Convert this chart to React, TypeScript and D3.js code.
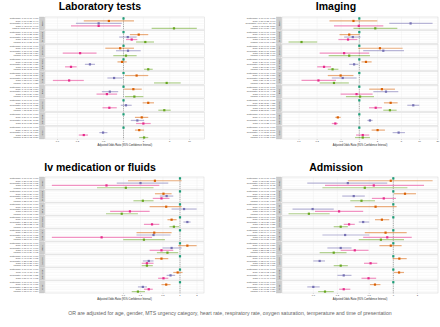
import React from "react";
import * as d3 from "d3";

// Dark2 palette: reference site first
const COLORS = ["#1B9E77", "#D95F02", "#7570B3", "#E7298A", "#66A61E"];
const SITES = ["Rotterdam", "Graz", "Newcastle", "Riga", "Madrid"];
const FACETS = ["Fever", "Dyspnoea", "Vomiting", "Diarrhoea", "Abd. pain", "Rash", "Seizure", "Ear/throat", "Other"];

const AXIS_TITLE = "Adjusted Odds Ratio (95% Confidence Interval)";
const FOOTNOTE =
  "OR are adjusted for age, gender, MTS urgency category, heart rate, respiratory rate, oxygen saturation, temperature and time of presentation";

// Columns: Graz, Newcastle, Riga, Madrid (reference = 1.00)
const LAB_OR = [
  [0.6, 0.42, 0.42, 5.82],
  [1.7, 1.16, 1.33, 2.14],
  [0.89, 1.17, 0.22, 1.09],
  [0.95, 0.31, 0.16, 2.37],
  [1.58, 0.72, 0.15, 4.51],
  [1.41, 0.62, 0.56, 1.46],
  [2.37, 1.09, 0.61, 4.15],
  [1.89, 1.62, 2.0, null],
  [1.73, 0.49, 0.25, 2.05],
];
const LAB_LO = [
  [0.25, 0.19, 0.16, 2.67],
  [1.25, 0.86, 1.09, 1.55],
  [0.53, 0.77, 0.12, 0.7],
  [0.81, 0.26, 0.13, 2.05],
  [1.05, 0.57, 0.085, 2.9],
  [1.02, 0.47, 0.39, 1.05],
  [1.95, 0.91, 0.48, 3.37],
  [1.49, 1.29, 1.55, null],
  [1.49, 0.43, 0.21, 1.73],
];
const LAB_HI = [
  [1.44, 0.94, 0.91, 12.9],
  [2.37, 1.58, 1.62, 2.9],
  [1.44, 1.82, 0.39, 1.58],
  [1.12, 0.37, 0.195, 2.77],
  [2.37, 0.97, 0.25, 7.35],
  [1.89, 0.83, 0.8, 2.0],
  [2.9, 1.33, 0.79, 5.19],
  [2.37, 2.05, 2.58, null],
  [2.05, 0.57, 0.29, 2.37],
];

const IMG_OR = [
  [0.8, 7.09, 0.98, 1.84],
  [0.68, 0.78, 0.65, 0.11],
  [2.2, 2.5, 0.56, 0.68],
  [1.29, 0.82, 0.26, 0.36],
  [0.49, 0.53, 0.21, 0.38],
  [2.37, 2.77, 0.9, 1.03],
  [3.31, 7.85, 1.87, 3.22],
  [0.44, 1.5, 0.4, null],
  [2.01, 4.49, 1.14, 1.14],
];
const IMG_LO = [
  [0.32, 3.14, 0.38, 0.8],
  [0.47, 0.56, 0.45, 0.067],
  [0.96, 1.16, 0.22, 0.31],
  [1.09, 0.68, 0.2, 0.3],
  [0.3, 0.35, 0.11, 0.22],
  [1.46, 1.71, 0.49, 0.6],
  [2.56, 6.25, 1.45, 2.5],
  [0.4, 1.36, 0.35, null],
  [1.6, 3.57, 0.88, 0.85],
];
const IMG_HI = [
  [1.99, 16.4, 2.5, 4.27],
  [1.0, 1.05, 0.93, 0.2],
  [5.23, 5.5, 1.46, 1.5],
  [1.6, 0.96, 0.34, 0.45],
  [0.8, 0.9, 0.41, 0.67],
  [3.9, 4.43, 1.66, 1.75],
  [4.32, 9.87, 2.37, 4.16],
  [0.49, 1.66, 0.44, null],
  [2.66, 5.71, 1.46, 1.5],
];

const IV_OR = [
  [0.36, 0.2, 0.05, 0.11],
  [0.51, 0.58, 0.47, 0.22],
  [0.57, 1.18, 0.13, 0.093],
  [0.71, 1.35, 0.32, 0.78],
  [0.35, 0.34, 0.041, 0.23],
  [1.35, 0.71, 0.47, 0.6],
  [0.47, 0.28, 0.26, 0.26],
  [0.91, 0.68, 0.51, null],
  [0.57, 0.22, 0.28, 0.18],
];
const IV_LO = [
  [0.12, 0.076, 0.0054, 0.034],
  [0.36, 0.44, 0.33, 0.15],
  [0.29, 0.71, 0.058, 0.049],
  [0.6, 1.15, 0.23, 0.65],
  [0.17, 0.17, 0.0054, 0.099],
  [0.93, 0.49, 0.29, 0.39],
  [0.36, 0.22, 0.21, 0.21],
  [0.76, 0.58, 0.41, null],
  [0.47, 0.18, 0.23, 0.14],
];
const IV_HI = [
  [1.07, 0.62, 0.43, 0.34],
  [0.71, 0.76, 0.65, 0.34],
  [1.07, 1.97, 0.29, 0.18],
  [0.87, 1.54, 0.43, 0.97],
  [0.71, 0.68, 0.32, 0.54],
  [1.97, 1.07, 0.76, 0.93],
  [0.62, 0.34, 0.34, 0.33],
  [1.11, 0.82, 0.62, null],
  [0.68, 0.26, 0.33, 0.24],
];

const ADM_OR = [
  [0.93, 0.27, 0.57, 0.44],
  [1.4, 0.32, 0.76, 0.4],
  [0.6, 0.098, 0.21, 0.088],
  [0.72, 0.42, 0.28, 0.22],
  [0.8, 0.25, 0.84, 0.7],
  [0.93, 0.22, 0.33, 0.18],
  [1.19, 0.12, 0.52, 0.22],
  [1.18, 0.24, 0.49, null],
  [0.59, 0.1, 0.24, 0.14],
];
const ADM_LO = [
  [0.27, 0.084, 0.14, 0.13],
  [1.02, 0.23, 0.54, 0.29],
  [0.33, 0.055, 0.105, 0.049],
  [0.59, 0.37, 0.24, 0.18],
  [0.44, 0.13, 0.42, 0.37],
  [0.67, 0.15, 0.22, 0.12],
  [0.98, 0.1, 0.43, 0.18],
  [1.02, 0.2, 0.4, null],
  [0.51, 0.084, 0.21, 0.115],
];
const ADM_HI = [
  [3.1, 0.84, 2.42, 1.5],
  [1.92, 0.44, 1.08, 0.59],
  [1.1, 0.18, 0.42, 0.16],
  [0.89, 0.5, 0.33, 0.27],
  [1.47, 0.5, 1.7, 1.36],
  [1.27, 0.3, 0.49, 0.26],
  [1.47, 0.14, 0.63, 0.27],
  [1.36, 0.3, 0.61, null],
  [0.69, 0.12, 0.29, 0.18],
];

const LAB_TICKS = [0.1, 0.2, 0.5, 1, 2, 5, 10];
const IMG_TICKS = [0.1, 0.2, 0.5, 1, 2, 5, 10, 20];
const IV_TICKS = [0.1, 0.2, 0.5, 1, 2];
const ADM_TICKS = [0.1, 0.2, 0.5, 1, 2];

const FONT = "'Liberation Sans', Arial, Helvetica, sans-serif";

type P = {
  title: string;
  titleX: number;
  titleY: number;
  top: number;
  bottom: number;
  left: number;
  right: number;
  domain: [number, number];
  ticks: number[];
  or: (number | null)[][];
  lo: (number | null)[][];
  hi: (number | null)[][];
};

function Forest(p: P) {
  const x = d3.scaleLog().domain(p.domain).range([p.left, p.right]);
  const nF = FACETS.length;
  const gap = 0.8;
  const fh = (p.bottom - p.top - gap * (nF - 1)) / nF;
  const stripW = 5.2;
  const f = (v: number) => v.toFixed(2);
  return (
    <g>
      <text x={p.titleX} y={p.titleY} textAnchor="middle" fontSize={10.5} fontWeight="bold" fill="#000">
        {p.title}
      </text>
      {FACETS.map((fl, i) => {
        const fy = p.top + i * (fh + gap);
        const rows = SITES.map((s, j) => ({
          site: s,
          j,
          or: j === 0 ? 1 : p.or[i][j - 1],
          lo: j === 0 ? 1 : p.lo[i][j - 1],
          hi: j === 0 ? 1 : p.hi[i][j - 1],
        })).filter((r) => r.or != null);
        const y = d3
          .scalePoint<string>()
          .domain(rows.map((r) => r.site))
          .range([fy, fy + fh])
          .padding(0.6);
        return (
          <g key={i}>
            <rect x={p.left - stripW - 0.4} y={fy} width={stripW} height={fh} fill="#cdcdcd" stroke="#b5b5b5" strokeWidth={0.3} />
            <text
              transform={`translate(${p.left - stripW / 2 - 0.4},${fy + fh / 2}) rotate(-90)`}
              textAnchor="middle"
              dy="0.35em"
              fontSize={2.2}
              fill="#333"
            >
              {fl}
            </text>
            <rect x={p.left} y={fy} width={p.right - p.left} height={fh} fill="#fff" stroke="#d3d3d3" strokeWidth={0.5} />
            {p.ticks.map((t) => (
              <line key={t} x1={x(t)} x2={x(t)} y1={fy} y2={fy + fh} stroke="#ececec" strokeWidth={0.4} />
            ))}
            {rows.map((r) => (
              <line key={r.site} x1={p.left} x2={p.right} y1={y(r.site)} y2={y(r.site)} stroke="#f0f0f0" strokeWidth={0.4} />
            ))}
            <line x1={x(1)} x2={x(1)} y1={fy} y2={fy + fh} stroke="#555" strokeWidth={0.5} strokeDasharray="1,0.8" />
            {rows.map((r) => (
              <text
                key={"l" + r.site}
                x={p.left - stripW - 1.2}
                y={y(r.site)}
                dy="0.35em"
                textAnchor="end"
                fontSize={2.3}
                fill="#4d4d4d"
              >
                {`${r.site}: ${f(r.or as number)} (${f(r.lo as number)}, ${f(r.hi as number)})`}
              </text>
            ))}
            {rows.map((r) =>
              r.j === 0 ? null : (
                <line
                  key={"c" + r.site}
                  x1={x(r.lo as number)}
                  x2={x(r.hi as number)}
                  y1={y(r.site)}
                  y2={y(r.site)}
                  stroke={COLORS[r.j]}
                  strokeOpacity={0.5}
                  strokeWidth={1.2}
                />
              )
            )}
            {rows.map((r) => (
              <rect
                key={"p" + r.site}
                x={x(r.or as number) - 1.1}
                y={(y(r.site) as number) - 1.1}
                width={2.2}
                height={2.2}
                fill={COLORS[r.j]}
              />
            ))}
          </g>
        );
      })}
      {p.ticks.map((t) => (
        <g key={"t" + t}>
          <line x1={x(t)} x2={x(t)} y1={p.bottom} y2={p.bottom + 0.8} stroke="#777" strokeWidth={0.3} />
          <text x={x(t)} y={p.bottom + 3.4} textAnchor="middle" fontSize={2.4} fill="#4d4d4d">
            {String(t)}
          </text>
        </g>
      ))}
      <text x={(p.left + p.right) / 2} y={p.bottom + 7} textAnchor="middle" fontSize={2.6} fill="#222">
        {AXIS_TITLE}
      </text>
    </g>
  );
}

export default function App() {
  return (
    <svg
      width={440}
      height={327}
      viewBox="0 0 440 327"
      style={{ position: "absolute", left: 0, top: 0, background: "#fff" }}
      fontFamily={FONT}
    >
      <rect width={440} height={327} fill="#fff" />
      <Forest title="Laboratory tests" titleX={100} titleY={10} top={17} bottom={139} left={45} right={204.5} domain={[0.0646, 16.88]} ticks={LAB_TICKS} or={LAB_OR} lo={LAB_LO} hi={LAB_HI} />
      <Forest title="Imaging" titleX={336} titleY={10} top={17} bottom={139} left={282} right={438} domain={[0.0522, 20.19]} ticks={IMG_TICKS} or={IMG_OR} lo={IMG_LO} hi={IMG_HI} />
      <Forest title="Iv medication or fluids" titleX={100} titleY={171} top={177} bottom={293} left={45} right={204} domain={[0.00408, 2.66]} ticks={IV_TICKS} or={IV_OR} lo={IV_LO} hi={IV_HI} />
      <Forest title="Admission" titleX={336} titleY={171} top={177} bottom={293} left={282} right={438} domain={[0.0406, 3.62]} ticks={ADM_TICKS} or={ADM_OR} lo={ADM_LO} hi={ADM_HI} />
      <text x={230} y={315} textAnchor="middle" fontSize={5.2} fill="#666">
        {FOOTNOTE}
      </text>
    </svg>
  );
}
